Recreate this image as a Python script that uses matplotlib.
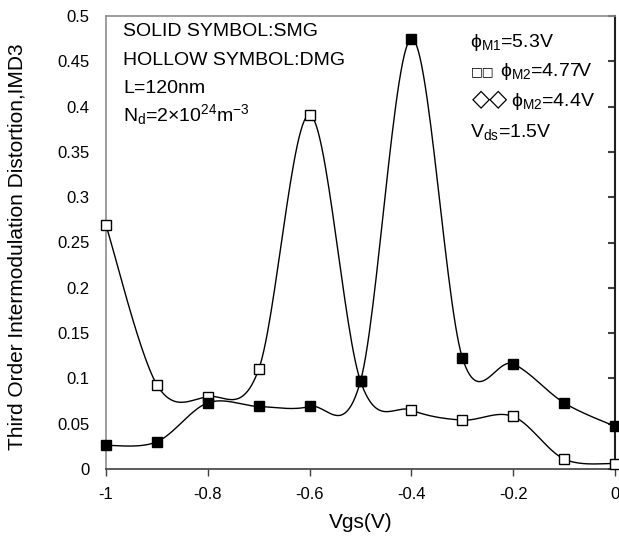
import numpy as np
import matplotlib
matplotlib.use("Agg")
import matplotlib.pyplot as plt

plt.rcParams['font.family'] = ['Liberation Sans', 'DejaVu Sans']
plt.rcParams['mathtext.fontset'] = 'custom'
plt.rcParams['mathtext.rm'] = 'Liberation Sans'
plt.rcParams['mathtext.it'] = 'Liberation Sans:italic'

# ------------------ data ------------------ #
vgs = [-1.0, -0.9, -0.8, -0.7, -0.6, -0.5, -0.4, -0.3, -0.2, -0.1, 0.0]
imd3_smg = [0.026, 0.030, 0.073, 0.069, 0.069, 0.097, 0.475, 0.123, 0.116, 0.073, 0.047]
imd3_dmg = [0.269, 0.093, 0.080, 0.110, 0.391, 0.097, 0.065, 0.054, 0.058, 0.011, 0.006]

x_ticks = [-1, -0.8, -0.6, -0.4, -0.2, 0]
x_ticklabels = ["-1", "-0.8", "-0.6", "-0.4", "-0.2", "0"]
y_ticks = [0, 0.05, 0.1, 0.15, 0.2, 0.25, 0.3, 0.35, 0.4, 0.45, 0.5]
y_ticklabels = ["0", "0.05", "0.1", "0.15", "0.2", "0.25", "0.3", "0.35", "0.4", "0.45", "0.5"]


def smooth(xs, ys, n=30):
    # Excel-like smoothed line: cubic bezier with catmull-rom control points
    xs = np.asarray(xs, float)
    ys = np.asarray(ys, float)
    px = np.concatenate([[xs[0]], xs, [xs[-1]]])
    py = np.concatenate([[ys[0]], ys, [ys[-1]]])
    t = np.linspace(0, 1, n)
    outx, outy = [], []
    for i in range(1, len(px) - 2):
        p0 = np.array([px[i], py[i]])
        p3 = np.array([px[i + 1], py[i + 1]])
        c1 = p0 + (p3 - np.array([px[i - 1], py[i - 1]])) / 6.0
        c2 = p3 - (np.array([px[i + 2], py[i + 2]]) - p0) / 6.0
        b = ((1 - t) ** 3)[:, None] * p0 + (3 * (1 - t) ** 2 * t)[:, None] * c1 \
            + (3 * (1 - t) * t ** 2)[:, None] * c2 + (t ** 3)[:, None] * p3
        outx.extend(b[:, 0])
        outy.extend(b[:, 1])
    return outx, outy


fig = plt.figure(figsize=(6.19, 5.39), dpi=100)
ax = fig.add_axes([106 / 619, 70 / 539, 509 / 619, 453 / 539])

sx, sy = smooth(vgs, imd3_dmg)
ax.plot(sx, sy, color='black', lw=1.0, zorder=2)
ax.plot(vgs, imd3_dmg, ls='none', marker='s', ms=6.5, mfc='white', mec='black', mew=1.0, zorder=3,
        clip_on=False)

sx, sy = smooth(vgs, imd3_smg)
ax.plot(sx, sy, color='black', lw=1.0, zorder=4)
ax.plot(vgs, imd3_smg, ls='none', marker='s', ms=6.5, mfc='black', mec='black', zorder=5,
        clip_on=False)

ax.set_xlim(-1, 0)
ax.set_ylim(0, 0.5)
ax.set_xticks(x_ticks)
ax.set_xticklabels(x_ticklabels, fontsize=12)
ax.set_yticks(y_ticks)
ax.set_yticklabels(y_ticklabels, fontsize=12)
ax.tick_params(axis='x', direction='out', length=5, width=1, color='#404040', pad=8)
ax.tick_params(axis='y', direction='in', length=5, width=1.5, color='#404040', pad=12,
               left=False, right=True, labelleft=True, labelright=False)

for s in ['left', 'top', 'bottom']:
    ax.spines[s].set_color('#8c8c8c')
    ax.spines[s].set_linewidth(1.2)
ax.spines['bottom'].set_color('#404040')
ax.spines['right'].set_color('#202020')
ax.spines['right'].set_linewidth(1.5)

ax.set_xlabel("Vgs(V)", fontsize=15, va='center')
ax.xaxis.set_label_coords(0.5, -(522 - 469) / 453)
ax.set_ylabel("Third Order Intermodulation Distortion,IMD3", fontsize=15, va='center')
ax.yaxis.set_label_coords(-(106 - 17) / 509, 0.49)

# annotations (figure pixel coords, top-left origin)
def ftext(x, y, s, **kw):
    kw.setdefault('fontsize', 14)
    fig.text(x / 619, 1 - y / 539, s, va='baseline', **kw)

ftext(123, 36, "SOLID SYMBOL:SMG")
ftext(123, 65, "HOLLOW SYMBOL:DMG")
ftext(123, 93, "L=120nm")
ftext(123, 121, r"N$_{\rm d}$=2×10$^{24}$m$^{-3}$")

ftext(470, 47, "ϕ" + r"$_{\rm M1}$" + "=5.3V")
ftext(471, 75, "□□", family='DejaVu Sans', fontsize=9)
ftext(500, 76, "ϕ" + r"$_{\rm M2}$" + "=4.77V")
ftext(472, 106, "◇◇", family='DejaVu Sans', fontsize=17)
ftext(511, 106, "ϕ" + r"$_{\rm M2}$" + "=4.4V")
ftext(470, 137, r"V$_{\rm ds}$=1.5V")

fig.savefig("out.png", dpi=100)
